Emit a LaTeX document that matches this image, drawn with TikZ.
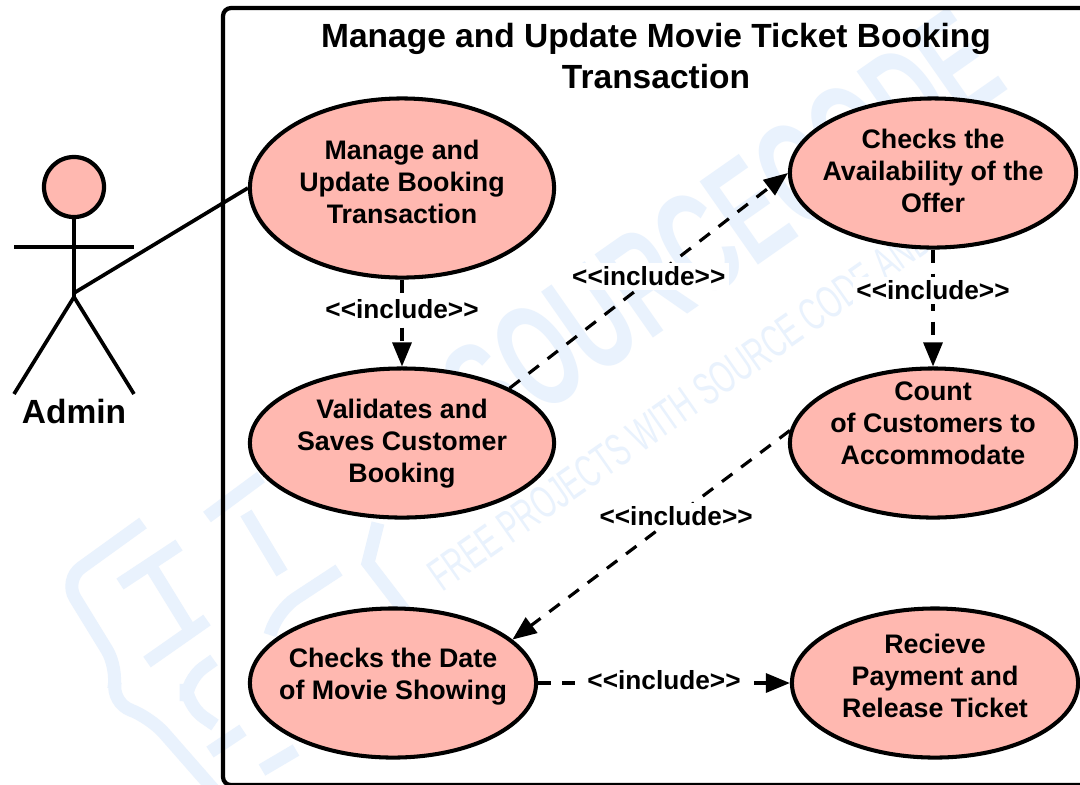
\documentclass[tikz,border=0pt]{standalone}
\usepackage{fontspec}
\setmainfont{Liberation Sans}
\usetikzlibrary{arrows.meta}
\usetikzlibrary{shapes.geometric}

\definecolor{usefill}{HTML}{FFB8B0}
\definecolor{wmblue}{HTML}{E9F2FD}

\tikzset{
	usecase/.style={draw,ellipse,fill=usefill,line width=1.15pt,inner sep=0pt},
	usetext/.style={align=center,font=\fontsize{7.62}{9.1}\selectfont\bfseries,inner sep=0pt},
	incline/.style={dashed,dash pattern=on 0.13cm off 0.11cm,line width=0.9pt,-{Triangle[length=0.24cm,width=0.19cm]}},
	inclabel/.style={fill=white,inner sep=1pt,font=\fontsize{7.46}{9.1}\selectfont\bfseries},
	actorline/.style={line width=1.05pt},
	wmark/.style={draw=wmblue,line width=0.13cm},
}

\begin{document}
\begin{tikzpicture}[x=0.01cm,y=-0.01cm]
		\clip (0,0) rectangle (1080,784);
		\fill[white] (0,0) rectangle (1080,784);
		% watermark
		\node[text=wmblue,font=\fontsize{42}{42}\selectfont\bfseries,rotate=35,xscale=0.6,inner sep=0pt] (wmbig) at (722,228) {SOURCECODE};
		\node[text=wmblue,font=\fontsize{13}{13}\selectfont,rotate=35,xscale=0.62,inner sep=0pt] (wmsmall) at (680,407) {FREE PROJECTS WITH SOURCE CODE AND};
		\draw[wmark,rounded corners=6] (143,523) -- (64,580) -- (118,668) -- (111,703) -- (150,717) -- (214,790);
		\draw[wmark] (179,545) -- (120,584);
		\draw[wmark] (150,565) -- (190,630);
		\draw[wmark] (207,620) -- (147,662);
		\draw[wmark] (207,517) -- (261,477);
		\draw[wmark] (246,513) -- (282,573);
		\draw[wmark] (378,523) -- (368,563) -- (404,610);
		\draw[wmark,rounded corners=6] (339,570) -- (278,610) -- (270,635);
		\draw[wmark,rounded corners=6] (214,660) -- (186,680) -- (186,705) -- (215,725);
		\draw[wmark] (243,730) -- (210,752);
		\draw[wmark] (296,750) -- (262,770);

		% system boundary
		\draw[line width=1.2pt,rounded corners=0.08cm] (223,8) rectangle (1100,785);
		\node[usetext,font=\fontsize{9.53}{11.4}\selectfont\bfseries] (title) at (656,56) {Manage and Update Movie Ticket Booking\\Transaction};

		% actor
		\node[draw,circle,fill=usefill,line width=1.2pt,minimum size=0.6cm,inner sep=0pt] (head) at (74,187) {};
		\coordinate (hip) at (74,297);
		\coordinate (handl) at (14,247);
		\coordinate (handr) at (134,247);
		\coordinate (footl) at (14,394);
		\coordinate (footr) at (134,394);
		\coordinate (waist) at (74,293);
		\draw[actorline] (head) -- (hip);
		\draw[actorline] (handl) -- (handr);
		\draw[actorline] (footl) -- (hip) -- (footr);
		\node[usetext,font=\fontsize{9.54}{11}\selectfont\bfseries] (admin) at (74,411) {Admin};

		% use cases
		\node[usecase,minimum width=3.04cm,minimum height=1.79cm] (manage) at (402,188) {};
		\node[usetext] (managetext) at (402,181.5) {Manage and\\Update Booking\\Transaction};
		\node[usecase,minimum width=3.04cm,minimum height=1.49cm] (saves) at (402,443) {};
		\node[usetext] (savestext) at (402,444) {Validates and\\Saves Customer\\Booking};
		\node[usecase,minimum width=2.86cm,minimum height=1.49cm] (offer) at (933,173) {};
		\node[usetext] (offertext) at (933,170.5) {Checks the\\Availability of the\\Offer};
		\node[usecase,minimum width=2.86cm,minimum height=1.49cm] (count) at (933,443) {};
		\node[usetext] (counttext) at (933,423.5) {Count\\of Customers to\\Accommodate};
		\node[usecase,minimum width=2.86cm,minimum height=1.49cm] (date) at (393,683) {};
		\node[usetext] (datetext) at (393,677) {Checks the Date\\of Movie Showing};
		\node[usecase,minimum width=2.86cm,minimum height=1.49cm] (ticket) at (935,683) {};
		\node[usetext] (tickettext) at (935,676) {Recieve\\Payment and\\Release Ticket};

		% connectors
		\draw[actorline] (waist) -- (manage.west);
		\draw[incline] (manage.south) -- (saves.north) node[inclabel,pos=0.34] (inca) {<{}<include>{}>};
		\draw[incline] (saves.27) -- (offer.west) node[inclabel,pos=0.5,yshift=0.04cm] (incb) {<{}<include>{}>};
		\draw[incline] (offer.south) -- (count.north) node[inclabel,pos=0.35] (incc) {<{}<include>{}>};
		\draw[incline] (count.175) -- (date.20) node[inclabel,pos=0.41] (incd) {<{}<include>{}>};
		\draw[incline] (date.east) -- (ticket.west) node[inclabel,pos=0.5,yshift=0.03cm] (ince) {<{}<include>{}>};
	\end{tikzpicture}
\end{document}
